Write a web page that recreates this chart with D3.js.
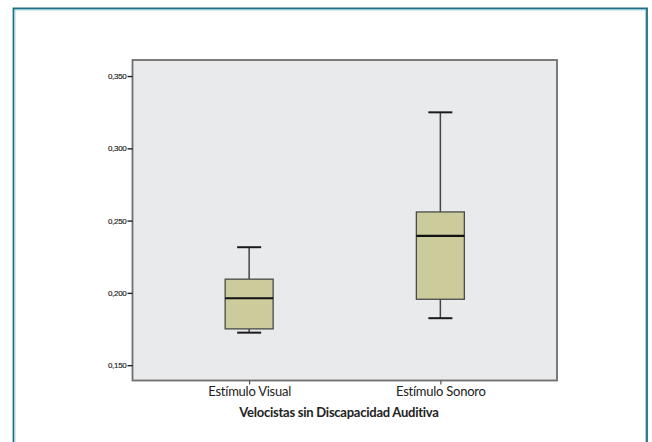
<!DOCTYPE html>
<html>
<head>
<meta charset="utf-8">
<script src="https://cdn.jsdelivr.net/npm/d3@7"></script>
<style>
  body { margin: 0; background: #fff; }
  svg { display: block; }
</style>
</head>
<body>
<div class="dataviz"></div>
<script>
// data
var groups = ["Estímulo Visual", "Estímulo Sonoro"];
var whiskerLow  = [0.1725, 0.1825];
var q1          = [0.1751, 0.1956];
var median      = [0.1963, 0.2394];
var q3          = [0.2095, 0.2560];
var whiskerHigh = [0.2316, 0.3249];
var yTicks = [0.150, 0.200, 0.250, 0.300, 0.350];
var xTitle = "Velocistas sin Discapacidad Auditiva";

var width = 652, height = 442;
var margin = {top: 60, right: 95, bottom: 61.5, left: 132.5};
var labelFont = "Lato, 'Open Sans', sans-serif";

var svg = d3.select(".dataviz")
  .append("svg")
    .attr("width", width)
    .attr("height", height);

// teal frame round the figure (open at the bottom)
svg.append("path")
    .attr("d", "M13.5," + height + "V8.5H647V" + height)
    .attr("fill", "none")
    .attr("stroke", "#1b6f82")
    .attr("stroke-width", 1.8);
svg.append("path")
    .attr("d", "M15," + height + "V10H645.5V" + height)
    .attr("fill", "none")
    .attr("stroke", "#a9d4dc")
    .attr("stroke-width", 1);

var x = d3.scalePoint()
    .domain(groups)
    .range([margin.left, width - margin.right])
    .padding(0.61);

var y = d3.scaleLinear()
    .domain([0.1394, 0.3611])
    .range([height - margin.bottom, margin.top]);

var boxW = 48, capW = 24;

// plot background
svg.append("rect")
    .attr("x", margin.left)
    .attr("y", margin.top)
    .attr("width", width - margin.left - margin.right)
    .attr("height", height - margin.top - margin.bottom)
    .attr("fill", "#e9eaec")
    .attr("stroke", "#6e6e6e")
    .attr("stroke-width", 1.8);

// y axis
var yAxis = svg.append("g")
    .attr("transform", "translate(" + margin.left + ",0)")
    .call(d3.axisLeft(y)
      .tickValues(yTicks)
      .tickSize(5)
      .tickPadding(1)
      .tickFormat(function(d){ return d3.format(".3f")(d).replace(".", ","); }));
yAxis.select(".domain").remove();
yAxis.selectAll("line").attr("stroke", "#222").attr("stroke-width", 1.4);
yAxis.selectAll("text")
    .attr("fill", "#1a1a1a")
    .attr("font-family", "'Liberation Sans', Arial, sans-serif")
    .attr("font-size", "8px")
    .attr("letter-spacing", "-0.3px")
    .attr("stroke", "#1a1a1a")
    .attr("stroke-width", 0.15);

// x axis
var xAxis = svg.append("g")
    .attr("transform", "translate(0," + (height - margin.bottom) + ")")
    .call(d3.axisBottom(x).tickSize(4).tickPadding(2));
xAxis.select(".domain").remove();
xAxis.selectAll("line").attr("stroke", "#555").attr("stroke-width", 1.2);
xAxis.selectAll("text")
    .attr("fill", "#222")
    .attr("font-family", labelFont)
    .attr("font-size", "13px")
    .attr("letter-spacing", "-0.25px");

svg.append("text")
    .attr("x", 339)
    .attr("y", 416.5)
    .attr("text-anchor", "middle")
    .attr("fill", "#222")
    .attr("font-family", labelFont)
    .attr("font-weight", "bold")
    .attr("font-size", "13px")
    .attr("letter-spacing", "-0.25px")
    .text(xTitle);

// boxes
var box = svg.selectAll(".box")
  .data(groups)
  .enter()
  .append("g")
    .attr("class", "box");

// whisker stems
box.append("line")
    .attr("x1", d => x(d)).attr("x2", d => x(d))
    .attr("y1", (d, i) => y(whiskerHigh[i]))
    .attr("y2", (d, i) => y(q3[i]))
    .attr("stroke", "#444").attr("stroke-width", 1.5);
box.append("line")
    .attr("x1", d => x(d)).attr("x2", d => x(d))
    .attr("y1", (d, i) => y(q1[i]))
    .attr("y2", (d, i) => y(whiskerLow[i]))
    .attr("stroke", "#444").attr("stroke-width", 1.5);

// caps
box.selectAll(".cap")
  .data((d, i) => [{g: d, v: whiskerHigh[i]}, {g: d, v: whiskerLow[i]}])
  .enter()
  .append("line")
    .attr("class", "cap")
    .attr("x1", d => x(d.g) - capW / 2)
    .attr("x2", d => x(d.g) + capW / 2)
    .attr("y1", d => y(d.v))
    .attr("y2", d => y(d.v))
    .attr("stroke", "#1a1a1a").attr("stroke-width", 2);

box.append("rect")
    .attr("x", d => x(d) - boxW / 2)
    .attr("y", (d, i) => y(q3[i]))
    .attr("width", boxW)
    .attr("height", (d, i) => y(q1[i]) - y(q3[i]))
    .attr("fill", "#cbcb9b")
    .attr("stroke", "#4a4a4a")
    .attr("stroke-width", 1.3);

box.append("line")
    .attr("x1", d => x(d) - boxW / 2)
    .attr("x2", d => x(d) + boxW / 2)
    .attr("y1", (d, i) => y(median[i]))
    .attr("y2", (d, i) => y(median[i]))
    .attr("stroke", "#111").attr("stroke-width", 2.2);
</script>
</body>
</html>
